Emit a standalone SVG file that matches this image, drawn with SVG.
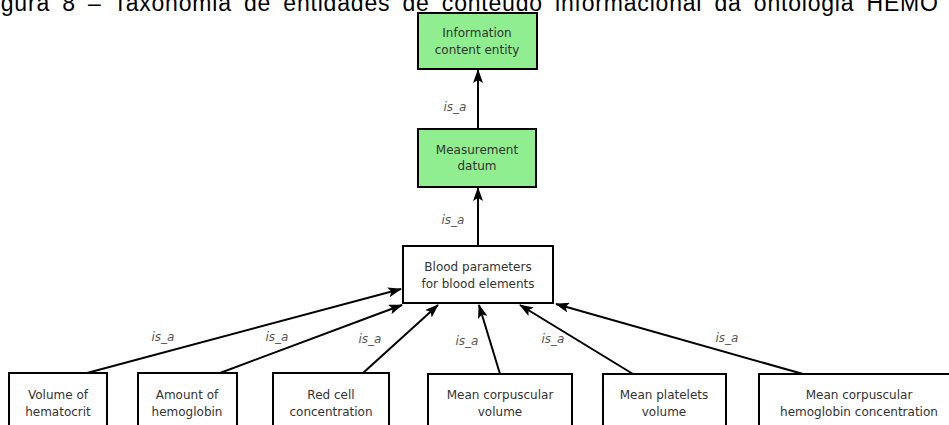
<svg xmlns="http://www.w3.org/2000/svg" width="949" height="425" viewBox="0 0 949 425">
<style>
.cap{font-family:"Liberation Sans",Arial,sans-serif;font-size:23px;fill:#000;letter-spacing:0.8px;word-spacing:5px}
.box{stroke:#000;stroke-width:2}
.g{fill:#90ee90}
.w{fill:#fff}
.t{font-family:"DejaVu Sans",sans-serif;font-size:12px;fill:#333;text-anchor:middle}
.lbl{font-family:"DejaVu Sans",sans-serif;font-size:12px;font-style:italic;fill:#555;text-anchor:middle}
.e{stroke:#000;stroke-width:2;fill:none;marker-end:url(#ah)}
</style>
<defs>
<marker id="ah" viewBox="0 0 14 10" refX="13" refY="5" markerWidth="14" markerHeight="10" markerUnits="userSpaceOnUse" orient="auto">
<path d="M0,0 L14,5 L0,10 L3,5 z" fill="#000"/>
</marker>
</defs>
<rect width="949" height="425" fill="#fff"/>
<text class="cap" x="-20" y="11">Figura 8 – Taxonomia de entidades de conteúdo informacional da ontologia HEMO</text>
<g id="connectors">
<line class="e" x1="478" y1="129" x2="478" y2="70"/>
<line class="e" x1="478" y1="246" x2="478" y2="188"/>
<line class="e" x1="87" y1="373" x2="401" y2="289"/>
<line class="e" x1="220" y1="373" x2="402" y2="305"/>
<line class="e" x1="363" y1="373" x2="438" y2="305"/>
<line class="e" x1="500" y1="374" x2="479" y2="305"/>
<line class="e" x1="633" y1="374" x2="520" y2="305"/>
<line class="e" x1="803" y1="374" x2="556" y2="304"/>
<text class="lbl" x="455" y="111">is_a</text>
<text class="lbl" x="453" y="224">is_a</text>
<text class="lbl" x="163" y="341">is_a</text>
<text class="lbl" x="277" y="341">is_a</text>
<text class="lbl" x="370" y="343">is_a</text>
<text class="lbl" x="467" y="345">is_a</text>
<text class="lbl" x="553" y="343">is_a</text>
<text class="lbl" x="727" y="342">is_a</text>
</g>
<g id="information-content-entity">
<rect class="box g" x="418" y="13" width="119" height="56"/>
<text class="t" x="477" y="37">Information</text>
<text class="t" x="477" y="54">content entity</text>
</g>
<g id="measurement-datum">
<rect class="box g" x="418" y="129" width="118" height="58"/>
<text class="t" x="477" y="154">Measurement</text>
<text class="t" x="477" y="170">datum</text>
</g>
<g id="blood-parameters">
<rect class="box w" x="403" y="246" width="150" height="57"/>
<text class="t" x="478" y="271">Blood parameters</text>
<text class="t" x="478" y="288">for blood elements</text>
</g>
<g id="volume-of-hematocrit">
<rect class="box w" x="9" y="373" width="98" height="60"/>
<text class="t" x="58" y="399">Volume of</text>
<text class="t" x="58" y="416">hematocrit</text>
</g>
<g id="amount-of-hemoglobin">
<rect class="box w" x="138" y="373" width="99" height="60"/>
<text class="t" x="187" y="399">Amount of</text>
<text class="t" x="187" y="416">hemoglobin</text>
</g>
<g id="red-cell-concentration">
<rect class="box w" x="273" y="373" width="116" height="60"/>
<text class="t" x="331" y="399">Red cell</text>
<text class="t" x="331" y="416">concentration</text>
</g>
<g id="mean-corpuscular-volume">
<rect class="box w" x="428" y="374" width="144" height="60"/>
<text class="t" x="500" y="399">Mean corpuscular</text>
<text class="t" x="500" y="416">volume</text>
</g>
<g id="mean-platelets-volume">
<rect class="box w" x="603" y="374" width="123" height="60"/>
<text class="t" x="664" y="399">Mean platelets</text>
<text class="t" x="664" y="416">volume</text>
</g>
<g id="mean-corpuscular-hemoglobin-concentration">
<rect class="box w" x="759" y="374" width="200" height="60"/>
<text class="t" x="859" y="399">Mean corpuscular</text>
<text class="t" x="859" y="416">hemoglobin concentration</text>
</g>
</svg>
